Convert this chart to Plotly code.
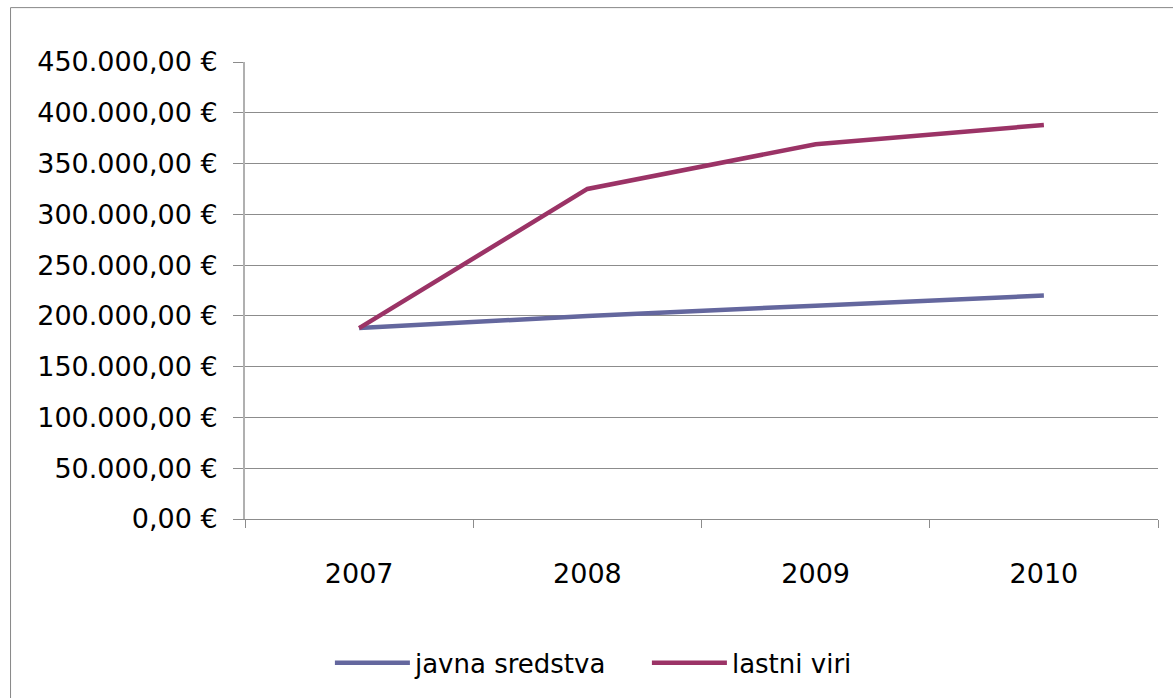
import plotly.graph_objects as go

years = ["2007", "2008", "2009", "2010"]
javna_sredstva = [188000, 200000, 210000, 220000]
lastni_viri = [188000, 325000, 369000, 388000]
series_names = ["javna sredstva", "lastni viri"]
series_colors = ["#64679e", "#9b3366"]

FONT = "DejaVu Sans"
GRID = "#8c8c8c"

fig = go.Figure()
for name, vals, col in zip(series_names, [javna_sredstva, lastni_viri], series_colors):
    fig.add_trace(go.Scatter(
        x=years, y=vals, name=name, mode="lines",
        line=dict(color=col, width=4.5),
    ))

# outer chart frame
fig.add_shape(type="rect", xref="paper", yref="paper",
              x0=-0.2568, x1=1.2, y0=-1.0, y1=1.119,
              line=dict(color="#878787", width=1), layer="below")

fig.update_layout(
    width=1173, height=698,
    margin=dict(l=245, r=15, t=62, b=176),
    paper_bgcolor="white", plot_bgcolor="white",
    separators=",.",
    font=dict(family=FONT, size=27, color="black"),
    showlegend=True,
    legend=dict(orientation="h", x=0.093, xanchor="left",
                y=-0.315, yanchor="middle",
                font=dict(family=FONT, size=26, color="black"),
                itemwidth=75, entrywidth=227, tracegroupgap=0,
                bgcolor="rgba(0,0,0,0)"),
    xaxis=dict(type="category", range=[-0.5, 3.5], tickson="boundaries",
               showgrid=False, showline=True, linecolor=GRID, linewidth=1,
               ticks="outside", ticklen=8, tickcolor=GRID,
               ticklabelstandoff=31,
               tickfont=dict(family=FONT, size=27, color="black"),
               fixedrange=True, zeroline=False),
    yaxis=dict(range=[0, 450000], dtick=50000, tickformat=",.2f",
               ticksuffix=" €", showgrid=True, gridcolor=GRID, gridwidth=1,
               showline=True, linecolor="#b0b0b0", linewidth=2,
               ticks="outside", ticklen=10, tickcolor=GRID,
               ticklabelstandoff=10,
               tickfont=dict(family=FONT, size=27, color="black"),
               zeroline=False, fixedrange=True),
)

fig.write_html("out.html")
